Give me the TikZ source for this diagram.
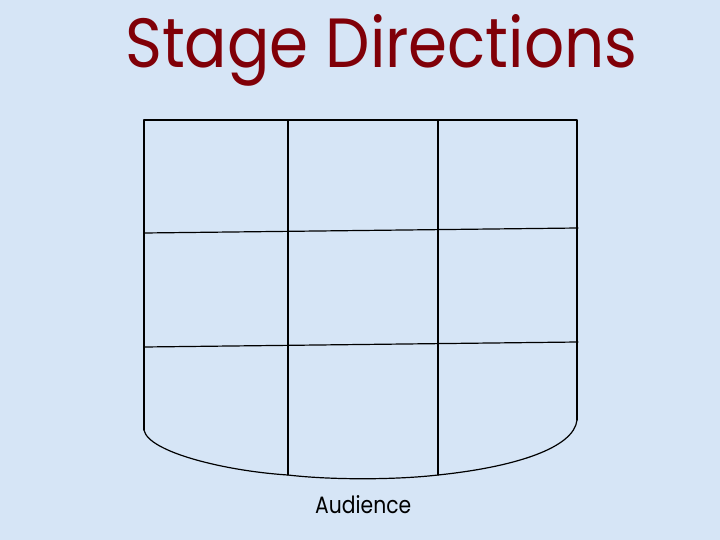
\documentclass[tikz,border=0pt]{standalone}
\usepackage{fontspec}
\setmainfont{Poppins}
\usepackage{graphicx}
\definecolor{bgblue}{RGB}{214,229,246}
\definecolor{titlered}{RGB}{128,0,8}
\tikzset{
  gridline/.style={draw=black, line width=1.2pt, line cap=round, line join=round},
  titletext/.style={text=titlered, inner sep=0pt, anchor=base west},
  labeltext/.style={text=black, inner sep=0pt, anchor=base west}
}
\begin{document}
\begin{tikzpicture}[x=1pt, y=-1pt]
\useasboundingbox (0,0) rectangle (720,540);
\fill[bgblue] (0,0) rectangle (720,540);
% title
\node[titletext] (title) at (125,68) {\resizebox{512pt}{53pt}{Stage Directions}};
% stage corners
\coordinate (tl) at (144,120);
\coordinate (tr) at (577,120);
\coordinate (bl) at (144,430);
\coordinate (br) at (577,420);
\coordinate (c1t) at (288,120);
\coordinate (c2t) at (438,120);
\coordinate (c1b) at (288,475);
\coordinate (c2b) at (438,475);
\coordinate (h1l) at (144,233);
\coordinate (h1r) at (578,228);
\coordinate (h2l) at (144,347);
\coordinate (h2r) at (578,342);
% outline
\draw[gridline] (bl) -- (tl) -- (tr) -- (br);
\draw[gridline] (bl) .. controls (148,452) and (225,471) .. (c1b)
  .. controls (330,480) and (395,480) .. (c2b)
  .. controls (515,467) and (574,448) .. (br);
% inner lines
\draw[gridline] (c1t) -- (c1b);
\draw[gridline] (c2t) -- (c2b);
\draw[gridline] (h1l) -- (h1r);
\draw[gridline] (h2l) -- (h2r);
% audience
\node[labeltext] (aud) at (315,513) {\resizebox{96pt}{18pt}{Audience}};
\end{tikzpicture}
\end{document}
